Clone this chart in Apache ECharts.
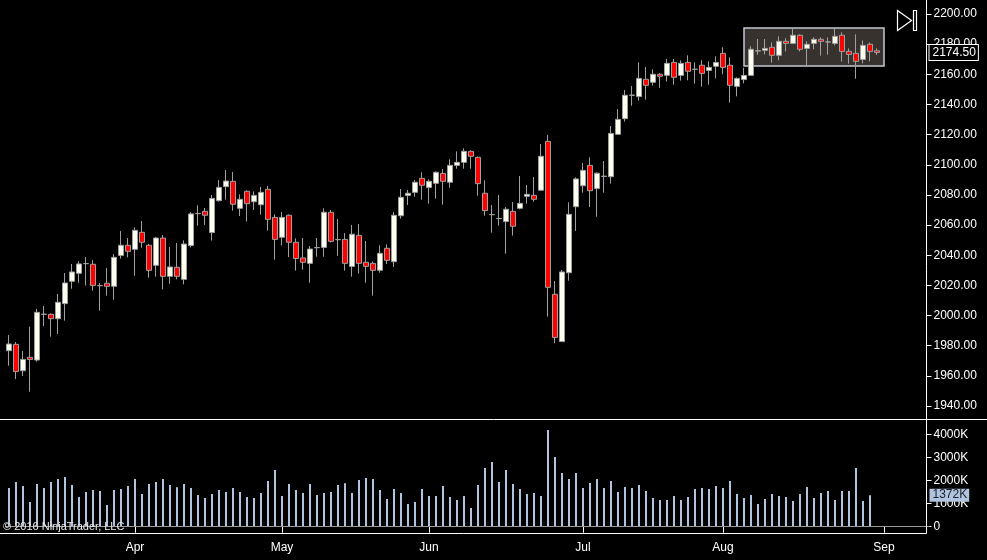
<!DOCTYPE html>
<html>
<head>
<meta charset="utf-8">
<script src="https://cdn.jsdelivr.net/npm/echarts@6/dist/echarts.min.js"></script>
<style>
  html, body { margin: 0; padding: 0; background: #000; }
  #main { width: 987px; height: 560px; }
</style>
</head>
<body>
<div id="main"></div>
<script>
// trading days shown on the chart (2016), Sep days are empty space on the right
var marDays = [7, 8, 9, 10, 11, 14, 15, 16, 17, 18, 21, 22, 23, 24, 28, 29, 30, 31];
var aprDays = [1, 4, 5, 6, 7, 8, 11, 12, 13, 14, 15, 18, 19, 20, 21, 22, 25, 26, 27, 28, 29];
var mayDays = [2, 3, 4, 5, 6, 9, 10, 11, 12, 13, 16, 17, 18, 19, 20, 23, 24, 25, 26, 27, 31];
var junDays = [1, 2, 3, 6, 7, 8, 9, 10, 13, 14, 15, 16, 17, 20, 21, 22, 23, 24, 27, 28, 29, 30];
var julDays = [1, 5, 6, 7, 8, 11, 12, 13, 14, 15, 18, 19, 20, 21, 22, 25, 26, 27, 28, 29];
var augDays = [1, 2, 3, 4, 5, 8, 9, 10, 11, 12, 15, 16, 17, 18, 19, 22, 23, 24, 25, 26, 29, 30, 31];
var sepDays = [1, 2, 6, 7, 8, 9, 12];
var monthNames = ['Jan', 'Feb', 'Mar', 'Apr', 'May', 'Jun', 'Jul', 'Aug', 'Sep', 'Oct', 'Nov', 'Dec'];

// OHLC
var opens = [1976.7, 1980.9, 1963.4, 1972.3, 1970.5, 2000.8, 2000.8, 1997.9, 2007.9, 2022.7,
  2028.0, 2034.4, 2034.0, 2019.8, 2021.4, 2019.4, 2039.9, 2046.6, 2043.9, 2055.2,
  2046.6, 2033.3, 2051.4, 2026.0, 2032.0, 2024.0, 2046.4, 2067.6, 2069.1, 2055.0,
  2076.2, 2085.5, 2089.0, 2071.1, 2082.4, 2075.5, 2073.5, 2083.7, 2065.1, 2051.9,
  2066.5, 2048.6, 2038.2, 2034.6, 2045.0, 2045.2, 2068.5, 2050.3, 2050.5, 2032.6,
  2053.2, 2035.3, 2034.6, 2030.0, 2044.6, 2035.7, 2066.2, 2079.7, 2081.7, 2091.0,
  2085.0, 2087.7, 2094.3, 2088.4, 2099.6, 2101.6, 2108.9, 2104.9, 2081.1, 2066.9,
  2064.3, 2062.3, 2069.1, 2071.1, 2079.1, 2079.7, 2083.1, 2115.5, 2014.1, 1982.7,
  2028.4, 2072.2, 2086.1, 2099.6, 2084.2, 2092.3, 2092.1, 2120.2, 2130.6, 2146.1,
  2145.2, 2156.7, 2154.7, 2160.0, 2159.3, 2167.9, 2159.3, 2167.9, 2163.3, 2166.0,
  2162.6, 2165.3, 2173.9, 2166.0, 2152.0, 2156.5, 2159.3, 2175.5, 2175.9, 2177.9,
  2172.6, 2181.9, 2180.5, 2185.9, 2177.2, 2180.5, 2183.2, 2181.4, 2180.5, 2185.9,
  2175.2, 2173.9, 2169.9, 2179.9, 2175.6];
var closes = [1981.1, 1962.8, 1970.9, 1970.9, 2002.1, 2000.9, 1997.9, 2008.8, 2021.6, 2028.9,
  2034.2, 2034.5, 2020.0, 2019.9, 2019.4, 2038.6, 2046.6, 2042.6, 2056.5, 2048.6,
  2030.0, 2051.4, 2026.0, 2032.2, 2026.0, 2047.4, 2067.4, 2067.7, 2066.5, 2077.7,
  2085.0, 2089.2, 2073.8, 2077.1, 2074.2, 2079.7, 2081.7, 2063.8, 2050.5, 2065.1,
  2048.6, 2037.8, 2035.3, 2044.1, 2045.1, 2068.5, 2049.2, 2050.4, 2034.6, 2053.9,
  2034.6, 2032.6, 2030.0, 2041.3, 2036.6, 2066.5, 2078.4, 2081.1, 2088.4, 2086.4,
  2089.0, 2095.0, 2089.0, 2099.6, 2101.6, 2108.9, 2105.6, 2087.5, 2069.6, 2067.0,
  2064.4, 2070.5, 2059.2, 2074.4, 2080.4, 2077.1, 2105.6, 2018.7, 1985.5, 2028.9,
  2067.1, 2090.6, 2096.3, 2082.8, 2094.4, 2092.4, 2120.8, 2130.1, 2146.1, 2146.2,
  2157.3, 2152.7, 2160.0, 2158.7, 2167.3, 2158.0, 2167.3, 2162.0, 2163.4, 2160.6,
  2164.6, 2167.9, 2164.6, 2152.7, 2157.3, 2159.3, 2176.6, 2175.6, 2177.2, 2172.6,
  2181.9, 2180.5, 2185.9, 2176.6, 2179.9, 2183.2, 2181.9, 2181.5, 2185.2, 2175.2,
  2173.2, 2168.6, 2179.2, 2175.2, 2174.5];
var lows = [1966.7, 1957.9, 1959.9, 1949.5, 1969.4, 1993.0, 1986.0, 1987.8, 1996.6, 2017.8,
  2021.8, 2019.8, 2016.5, 2003.2, 2013.2, 2010.5, 2037.7, 2038.6, 2026.4, 2045.0,
  2025.1, 2025.8, 2017.4, 2021.1, 2024.0, 2020.7, 2045.2, 2059.6, 2060.0, 2049.7,
  2075.5, 2076.9, 2069.6, 2066.0, 2062.3, 2070.0, 2066.9, 2056.3, 2037.1, 2046.6,
  2038.8, 2029.8, 2030.4, 2021.8, 2039.0, 2039.0, 2048.5, 2039.7, 2029.8, 2025.8,
  2027.8, 2021.8, 2013.2, 2028.4, 2034.2, 2032.2, 2064.3, 2073.3, 2078.8, 2076.8,
  2074.2, 2077.5, 2073.5, 2084.8, 2097.4, 2097.4, 2097.4, 2079.5, 2066.2, 2055.0,
  2059.6, 2041.0, 2053.0, 2070.5, 2074.2, 2075.5, 2083.0, 1999.3, 1981.6, 1982.5,
  2023.1, 2056.1, 2081.5, 2072.0, 2065.5, 2081.5, 2087.5, 2120.0, 2128.6, 2139.2,
  2142.5, 2143.2, 2152.5, 2151.1, 2155.3, 2153.1, 2155.8, 2156.0, 2153.8, 2151.8,
  2153.1, 2157.3, 2160.0, 2141.2, 2145.4, 2154.0, 2159.0, 2173.0, 2173.2, 2167.7,
  2169.3, 2175.2, 2180.0, 2175.2, 2165.3, 2176.6, 2172.4, 2173.0, 2179.2, 2168.4,
  2167.0, 2157.1, 2167.3, 2168.6, 2172.8];
var highs = [1987.1, 1982.4, 1976.5, 1992.6, 2004.3, 2006.3, 2001.5, 2014.3, 2028.2, 2034.2,
  2036.0, 2038.8, 2036.8, 2021.6, 2031.5, 2040.8, 2056.1, 2051.4, 2058.5, 2062.7,
  2047.5, 2052.1, 2053.4, 2045.5, 2048.1, 2049.9, 2068.7, 2073.1, 2071.3, 2080.0,
  2089.9, 2096.5, 2095.2, 2080.4, 2083.0, 2082.4, 2085.3, 2085.9, 2067.1, 2068.7,
  2067.0, 2051.2, 2051.4, 2046.1, 2051.4, 2071.1, 2070.0, 2064.0, 2054.7, 2060.1,
  2060.7, 2049.4, 2035.9, 2046.6, 2047.2, 2068.7, 2083.9, 2083.3, 2089.9, 2095.0,
  2090.3, 2095.6, 2097.2, 2103.6, 2108.9, 2110.9, 2109.6, 2105.5, 2089.7, 2073.3,
  2080.0, 2072.0, 2075.3, 2092.6, 2086.6, 2091.9, 2113.8, 2119.8, 2022.9, 2030.2,
  2075.1, 2091.7, 2101.2, 2104.9, 2095.0, 2102.5, 2125.7, 2137.0, 2149.6, 2152.2,
  2168.0, 2164.8, 2163.3, 2160.9, 2170.2, 2170.2, 2169.3, 2172.6, 2167.9, 2169.3,
  2168.6, 2171.9, 2177.9, 2171.3, 2158.0, 2164.3, 2178.6, 2183.4, 2183.4, 2181.2,
  2185.2, 2183.9, 2190.0, 2186.5, 2181.9, 2184.5, 2184.5, 2184.5, 2191.2, 2187.8,
  2177.2, 2186.5, 2182.5, 2181.2, 2177.2];

// volume in thousands
var volumes = [1681, 1942, 1768, 1072, 1855, 1681, 1942, 2072, 2159, 1812,
  1290, 1507, 1594, 1551, 942, 1594, 1638, 1768, 2072, 1420,
  1855, 1942, 2072, 1812, 1710, 1855, 1681, 1377, 1246, 1420,
  1594, 1507, 1681, 1507, 1290, 1246, 1464, 1986, 2464, 1333,
  1855, 1594, 1464, 1855, 1377, 1464, 1507, 1812, 1884, 1464,
  2029, 2116, 2072, 1594, 1203, 1638, 1464, 986, 1072, 1638,
  1333, 1333, 1768, 1290, 1159, 1333, 812, 1812, 2551, 2812,
  1942, 2464, 1855, 1638, 1420, 1464, 1333, 4203, 3029, 2333,
  2072, 2333, 1681, 1899, 2072, 1681, 1986, 1507, 1725, 1681,
  1812, 1551, 1246, 1159, 1159, 1333, 1159, 1290, 1638, 1681,
  1638, 1768, 1681, 1986, 1420, 1246, 1377, 986, 1203, 1420,
  1333, 1290, 1116, 1420, 1725, 1246, 1464, 1551, 1159, 1551,
  1551, 2551, 1116, 1372];

var lastPrice = 2174.5;
var lastVolume = 1372;

// drawn rectangle (NinjaTrader region)
var boxFrom = '2016-08-04', boxTo = '2016-09-01';
var boxHigh = 2190.7, boxLow = 2165.5;

function toDates(month, days) {
  return days.map(function (d) {
    return '2016-' + (month < 10 ? '0' : '') + month + '-' + (d < 10 ? '0' : '') + d;
  });
}
var dates = [].concat(
  toDates(3, marDays), toDates(4, aprDays), toDates(5, mayDays),
  toDates(6, junDays), toDates(7, julDays), toDates(8, augDays), toDates(9, sepDays)
);

function isMonthStart(idx) {
  if (idx === 0) return false;
  return dates[idx].slice(5, 7) !== dates[idx - 1].slice(5, 7);
}

var candles = opens.map(function (o, i) {
  return [o, closes[i], lows[i], highs[i]];
});

var font = 'Liberation Sans, Arial, sans-serif';
var gridLeft = 5.5, gridRight = 57.5;
var hidden = 'rgba(0,0,0,0)';

var myChart = echarts.init(document.getElementById('main'));

myChart.setOption({
  backgroundColor: '#000',
  animation: false,
  grid: [
    { left: gridLeft, right: gridRight, top: 14, height: 392 },
    { left: gridLeft, right: gridRight, top: 434.7, height: 92 }
  ],
  xAxis: [
    {
      type: 'category', gridIndex: 0, data: dates, boundaryGap: true,
      axisLine: { show: false }, axisTick: { show: false }, axisLabel: { show: false },
      splitLine: { show: false }
    },
    {
      type: 'category', gridIndex: 1, data: dates, boundaryGap: true, offset: 6.3,
      axisLine: { show: false },
      axisTick: {
        show: true, length: 6, alignWithLabel: true,
        interval: function (idx) { return isMonthStart(idx); },
        lineStyle: { color: '#fff', width: 1 }
      },
      axisLabel: {
        color: '#fff', fontFamily: font, fontSize: 12, margin: 9,
        interval: function (idx) { return isMonthStart(idx); },
        formatter: function (v) { return monthNames[parseInt(v.slice(5, 7), 10) - 1]; }
      },
      splitLine: { show: false }
    }
  ],
  yAxis: [
    {
      type: 'value', gridIndex: 0, position: 'right', offset: -3,
      min: 1940, max: 2200, interval: 20,
      axisLine: { show: false },
      axisTick: { show: true, length: 5, lineStyle: { color: '#fff' } },
      axisLabel: {
        color: '#fff', fontFamily: font, fontSize: 12, margin: 7,
        formatter: function (v) { return v.toFixed(2); }
      },
      splitLine: { show: false }
    },
    {
      type: 'value', gridIndex: 1, position: 'right', offset: -3,
      min: 0, max: 4000, interval: 1000,
      axisLine: { show: false },
      axisTick: { show: true, length: 5, lineStyle: { color: '#fff' } },
      axisLabel: {
        color: '#fff', fontFamily: font, fontSize: 12, margin: 7,
        formatter: function (v) { return v === 0 ? '0' : v + 'K'; }
      },
      splitLine: { show: false }
    }
  ],
  series: [
    {
      name: 'Price',
      type: 'candlestick',
      xAxisIndex: 0, yAxisIndex: 0,
      data: candles,
      barWidth: 5,
      itemStyle: {
        color: '#fffff0', color0: '#ff0000',
        borderColor: '#a0a0a0', borderColor0: '#a0a0a0', borderWidth: 1
      },
      markArea: {
        silent: true,
        itemStyle: { color: '#37322d', borderColor: '#c3cad2', borderWidth: 1.5 },
        data: [[{ xAxis: boxFrom, yAxis: boxHigh }, { xAxis: boxTo, yAxis: boxLow }]]
      },
      markLine: {
        silent: true, symbol: ['none', 'none'],
        lineStyle: { color: hidden, width: 1, type: 'solid' },
        data: [{ yAxis: lastPrice }],
        label: {
          show: true, position: 'end', distance: 0,
          formatter: lastPrice.toFixed(2),
          color: '#fff', fontFamily: font, fontSize: 12,
          backgroundColor: '#000', borderColor: '#fff', borderWidth: 1,
          padding: [2, 2, 1, 3]
        }
      }
    },
    {
      name: 'Volume',
      type: 'bar',
      xAxisIndex: 1, yAxisIndex: 1,
      data: volumes,
      barWidth: 2,
      clip: false,
      itemStyle: { color: '#b0c4de' },
      markLine: {
        silent: true, symbol: ['none', 'none'],
        data: [
          { yAxis: 0, lineStyle: { color: '#9a9a9a', width: 1, type: 'solid' }, label: { show: false } },
          {
            yAxis: lastVolume, lineStyle: { color: hidden, width: 1, type: 'solid' },
            label: {
              show: true, position: 'end', distance: 0,
              formatter: lastVolume + 'K',
              color: '#1c1c2c', fontFamily: font, fontSize: 12,
              backgroundColor: '#b0c4de', padding: [1, 2, 0, 3]
            }
          }
        ]
      }
    }
  ],
  graphic: [
    // panel frame
    { type: 'line', shape: { x1: 0, y1: 419.5, x2: 987, y2: 419.5 }, style: { stroke: '#fff', lineWidth: 1 }, z: 10 },
    { type: 'line', shape: { x1: 0, y1: 533.5, x2: 926.5, y2: 533.5 }, style: { stroke: '#fff', lineWidth: 1 }, z: 10 },
    { type: 'line', shape: { x1: 926.5, y1: 0, x2: 926.5, y2: 533.5 }, style: { stroke: '#fff', lineWidth: 1 }, z: 10 },
    // scroll-to-end button
    { type: 'polygon', shape: { points: [[897.5, 10.5], [911.5, 20.5], [897.5, 30.5]] }, style: { fill: 'none', stroke: '#fff', lineWidth: 1.2 }, z: 10 },
    { type: 'rect', shape: { x: 913.5, y: 10.5, width: 3, height: 20 }, style: { fill: 'none', stroke: '#fff', lineWidth: 1.2 }, z: 10 },
    // copyright
    {
      type: 'text', left: 3, top: 521, z: 20,
      style: { text: '\u00a9 2016 NinjaTrader, LLC', fill: '#e6e6e6', font: '11px ' + font }
    }
  ]
});
</script>
</body>
</html>
